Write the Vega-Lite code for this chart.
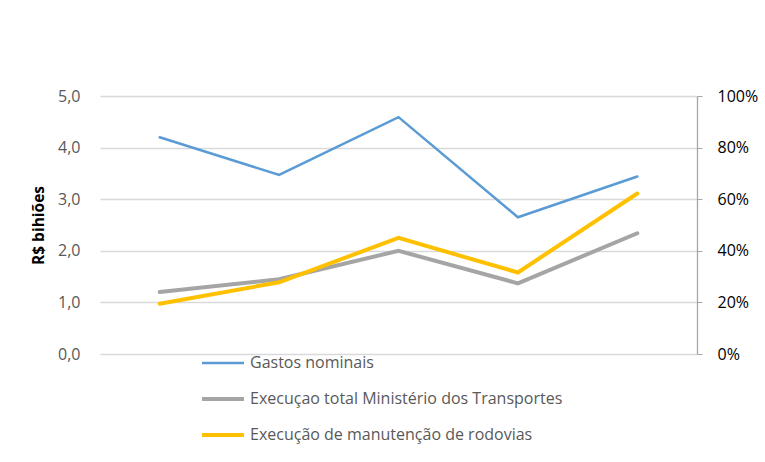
{
  "$schema": "https://vega.github.io/schema/vega-lite/v6.json",
  "width": 597,
  "height": 258,
  "autosize": {"type": "none"},
  "padding": {"left": 100, "top": 96, "right": 68, "bottom": 108},
  "background": "white",
  "config": {
    "view": {"stroke": null},
    "font": "Open Sans",
    "axis": {"labelFont": "Open Sans", "titleFont": "Open Sans"},
    "legend": {"labelFont": "Open Sans"}
  },
  "data": {
    "values": [
      {"periodo": "1", "serie": "Gastos nominais", "valor": 4.20},
      {"periodo": "2", "serie": "Gastos nominais", "valor": 3.47},
      {"periodo": "3", "serie": "Gastos nominais", "valor": 4.59},
      {"periodo": "4", "serie": "Gastos nominais", "valor": 2.65},
      {"periodo": "5", "serie": "Gastos nominais", "valor": 3.44},
      {"periodo": "1", "serie": "Execuçao total Ministério dos Transportes", "valor": 0.240},
      {"periodo": "2", "serie": "Execuçao total Ministério dos Transportes", "valor": 0.290},
      {"periodo": "3", "serie": "Execuçao total Ministério dos Transportes", "valor": 0.400},
      {"periodo": "4", "serie": "Execuçao total Ministério dos Transportes", "valor": 0.274},
      {"periodo": "5", "serie": "Execuçao total Ministério dos Transportes", "valor": 0.468},
      {"periodo": "1", "serie": "Execução de manutenção de rodovias", "valor": 0.195},
      {"periodo": "2", "serie": "Execução de manutenção de rodovias", "valor": 0.278},
      {"periodo": "3", "serie": "Execução de manutenção de rodovias", "valor": 0.450},
      {"periodo": "4", "serie": "Execução de manutenção de rodovias", "valor": 0.316},
      {"periodo": "5", "serie": "Execução de manutenção de rodovias", "valor": 0.622}
    ]
  },
  "encoding": {
    "x": {
      "field": "periodo",
      "type": "ordinal",
      "scale": {"type": "point", "padding": 0.5},
      "axis": null
    },
    "color": {
      "field": "serie",
      "type": "nominal",
      "scale": {
        "domain": ["Gastos nominais", "Execuçao total Ministério dos Transportes", "Execução de manutenção de rodovias"],
        "range": ["#5b9bd5", "#a5a5a5", "#ffc000"]
      },
      "legend": {
        "title": null,
        "orient": "none",
        "legendX": 115,
        "legendY": 259,
        "padding": 0,
        "direction": "vertical",
        "symbolType": "stroke",
        "symbolSize": 1764,
        "symbolStrokeWidth": 4,
        "labelFontSize": 16,
        "labelColor": "#595959",
        "labelOffset": 19,
        "rowPadding": 20,
        "labelLimit": 500,
        "encode": {
          "symbols": {
            "update": {
              "strokeWidth": {"signal": "datum.value === 'Gastos nominais' ? 2.5 : 4"}
            }
          }
        }
      }
    }
  },
  "layer": [
    {
      "transform": [{"filter": "datum.serie === 'Gastos nominais'"}],
      "mark": {"type": "line", "strokeWidth": 2.5, "strokeCap": "round", "strokeJoin": "miter"},
      "encoding": {
        "y": {
          "field": "valor",
          "type": "quantitative",
          "scale": {"domain": [0, 5], "nice": false, "zero": true},
          "axis": {
            "orient": "left",
            "title": "R$ bihiões",
            "titleFontSize": 15.5,
            "titleFontWeight": "bold",
            "titleColor": "#000000",
            "titlePadding": 11,
            "values": [0, 1, 2, 3, 4, 5],
            "format": ".1f",
            "labelExpr": "replace(datum.label, '.', ',')",
            "labelFontSize": 16,
            "labelColor": "#595959",
            "labelPadding": 20,
            "ticks": false,
            "domain": false,
            "grid": true,
            "gridColor": "#d9d9d9",
            "gridWidth": 1.3
          }
        }
      }
    },
    {
      "transform": [{"filter": "datum.serie !== 'Gastos nominais'"}],
      "mark": {"type": "line", "strokeWidth": 4, "strokeCap": "round", "strokeJoin": "miter"},
      "encoding": {
        "y": {
          "field": "valor",
          "type": "quantitative",
          "scale": {"domain": [0, 1], "nice": false, "zero": true},
          "axis": {
            "orient": "right",
            "title": null,
            "values": [0, 0.2, 0.4, 0.6, 0.8, 1],
            "format": ".0%",
            "labelFontSize": 16,
            "labelColor": "#000000",
            "labelPadding": 15,
            "ticks": true,
            "tickSize": 5,
            "tickColor": "#a6a6a6",
            "domain": true,
            "domainColor": "#a6a6a6",
            "domainWidth": 1.3,
            "grid": false
          }
        }
      }
    }
  ],
  "resolve": {"scale": {"y": "independent"}}
}
